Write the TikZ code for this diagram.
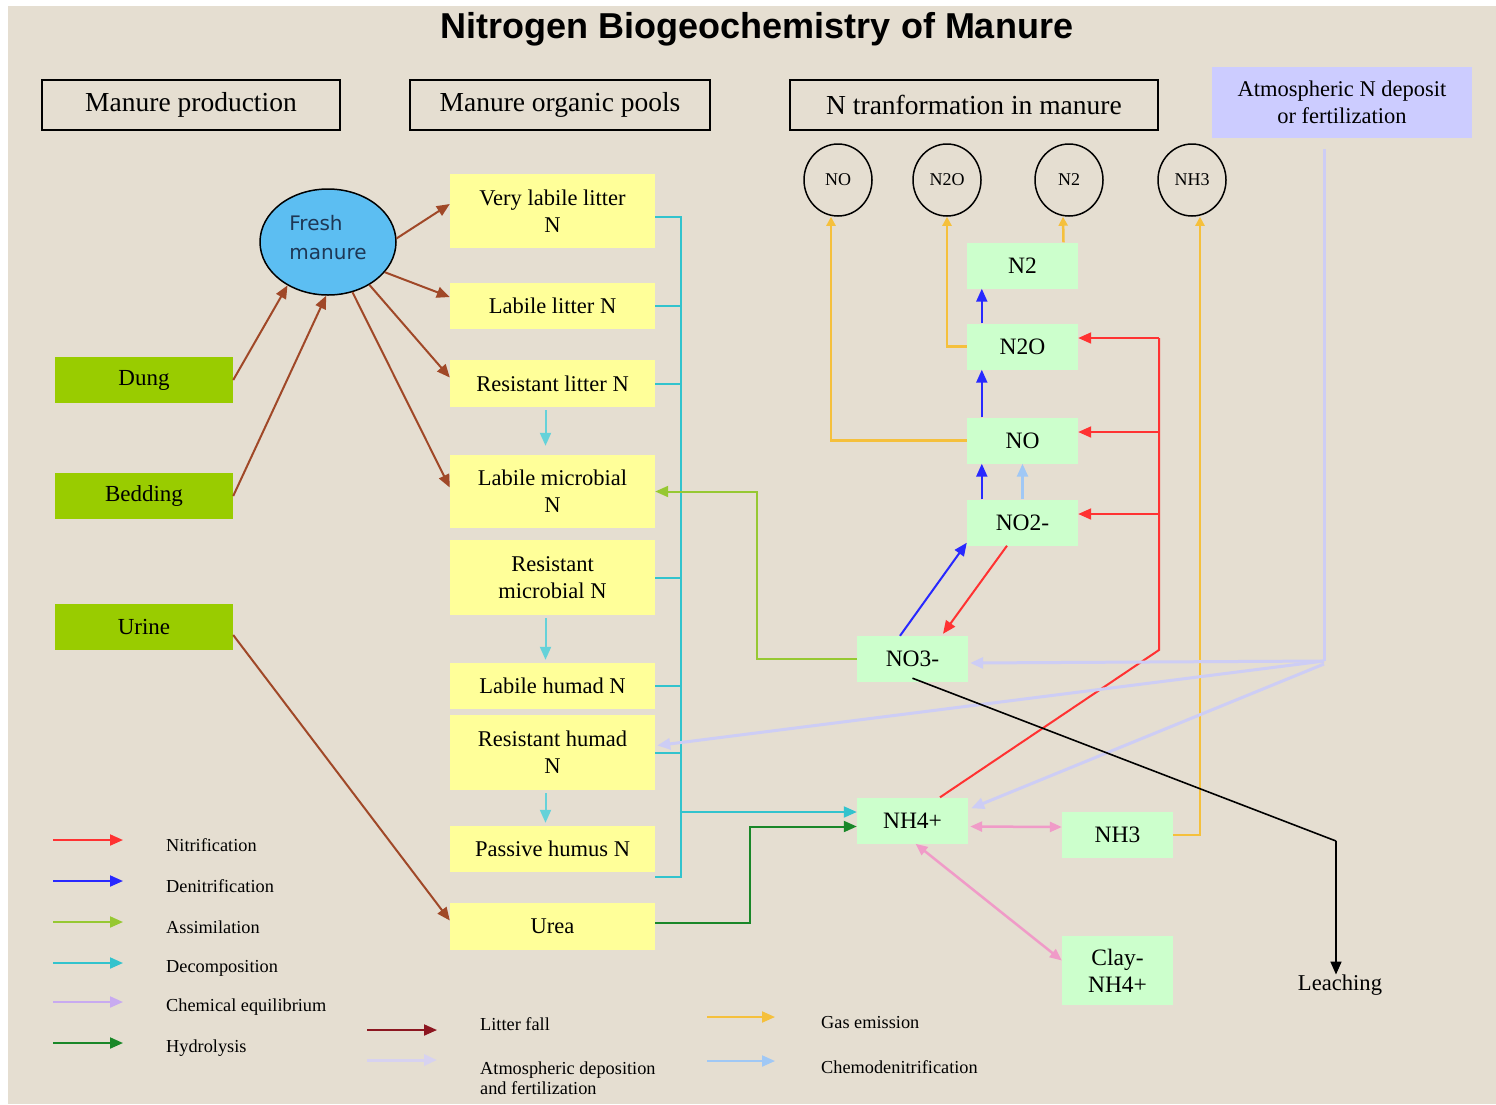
\documentclass[tikz,border=0pt]{standalone}
\usepackage{fontspec}
\setmainfont{Liberation Serif}
\newfontfamily\titlefont{Liberation Sans}
\newfontfamily\roundfont{DejaVu Sans}
\usetikzlibrary{arrows.meta,calc,shapes.geometric}

\definecolor{paper}{RGB}{229,222,209}
\definecolor{poolfill}{RGB}{255,255,153}
\definecolor{mineralfill}{RGB}{204,255,204}
\definecolor{sourcefill}{RGB}{153,204,0}
\definecolor{manurefill}{RGB}{92,190,242}
\definecolor{manuretext}{RGB}{30,55,85}
\definecolor{atmfill}{RGB}{204,204,255}
\definecolor{litterc}{RGB}{160,72,40}
\definecolor{litterlegend}{RGB}{140,22,32}
\definecolor{nitric}{RGB}{255,50,50}
\definecolor{denitc}{RGB}{40,40,255}
\definecolor{chemoc}{RGB}{160,200,245}
\definecolor{gasc}{RGB}{245,192,60}
\definecolor{assimc}{RGB}{150,200,50}
\definecolor{hydroc}{RGB}{25,135,40}
\definecolor{decompc}{RGB}{50,195,205}
\definecolor{atmc}{RGB}{205,205,245}
\definecolor{atmlegend}{RGB}{215,210,240}
\definecolor{equilc}{RGB}{240,155,200}
\definecolor{equillegend}{RGB}{200,170,240}

\tikzset{
  hdr/.style={draw=black, line width=2pt, inner sep=0pt, minimum height=50pt,
    font=\fontsize{27.5}{30}\selectfont},
  pool/.style={fill=poolfill, inner sep=0pt, minimum width=205pt, align=center,
    font=\fontsize{22.5}{27}\selectfont},
  mineral/.style={fill=mineralfill, inner sep=0pt, minimum width=111pt, minimum height=46pt,
    align=center, font=\fontsize{23.5}{26}\selectfont},
  source/.style={fill=sourcefill, inner sep=0pt, minimum width=178pt, minimum height=46pt,
    font=\fontsize{23}{25}\selectfont},
  gasball/.style={draw=black, line width=1.5pt, ellipse, inner sep=0pt,
    minimum width=68pt, minimum height=72pt, font=\fontsize{18}{20}\selectfont},
  legtext/.style={anchor=west, inner sep=0pt, align=left, font=\fontsize{18.3}{20}\selectfont},
  tip/.style={-{Triangle[length=13pt,width=11pt]}},
  smalltip/.style={-{Triangle[length=9pt,width=9pt]}},
  flow/.style={line width=2pt, tip},
  litter/.style={flow, draw=litterc},
  nitrif/.style={flow, draw=nitric},
  denit/.style={flow, draw=denitc},
  chemo/.style={flow, draw=chemoc, line width=2.5pt},
  gas/.style={line width=2.5pt, smalltip, draw=gasc},
  assim/.style={flow, draw=assimc},
  hydro/.style={flow, draw=hydroc},
  decomp/.style={line width=2pt, draw=decompc},
  atmdep/.style={flow, draw=atmc, line width=3pt},
  equil/.style={line width=2.5pt, draw=equilc, {Triangle[length=12pt,width=10pt]}-{Triangle[length=12pt,width=10pt]}},
}

\begin{document}
\begin{tikzpicture}[x=1pt,y=-1pt]
% paper background
\fill[white] (0,0) rectangle (1496,1104);
\fill[paper] (8,6) rectangle (1496,1104);
\useasboundingbox (0,0) rectangle (1496,1104);

% title and column headers
\node[font=\titlefont\bfseries\fontsize{36}{40}\selectfont] (title) at (757,29) {Nitrogen Biogeochemistry of Manure};
\node[hdr, minimum width=298pt] (h1) at (191,105) {Manure production};
\node[hdr, minimum width=300pt] (h2) at (560,105) {Manure organic pools};
\node[hdr, minimum width=368pt] (h3) at (974,105) {N tranformation in manure};
\node[fill=atmfill, inner sep=0pt, minimum width=260pt, minimum height=71pt, align=center,
      font=\fontsize{22.5}{27}\selectfont] (atm) at (1342,102.5) {Atmospheric N deposit\\or fertilization};

% gaseous sinks
\node[gasball] (noc) at (838,180) {NO};
\node[gasball] (n2oc) at (947,180) {N2O};
\node[gasball] (n2c) at (1069,180) {N2};
\node[gasball] (nh3c) at (1192,180) {NH3};

% manure sources
\node[draw=black, line width=1.5pt, fill=manurefill, ellipse, minimum width=136pt, minimum height=106pt,
      inner sep=0pt, align=left, text=manuretext, font=\roundfont\fontsize{20}{29}\selectfont] (fm) at (328,242) {};
\node[inner sep=0pt, align=left, text=manuretext, font=\roundfont\fontsize{20}{29}\selectfont] (fmtext) at (328,238) {Fresh\\manure};
\node[source] (dung) at (144,380) {Dung};
\node[source] (bedding) at (144,496) {Bedding};
\node[source] (urine) at (144,627) {Urine};

% organic pools
\node[pool, minimum height=74pt] (vll) at (552.5,211) {Very labile litter\\N};
\node[pool, minimum height=46pt] (ll) at (552.5,306) {Labile litter N};
\node[pool, minimum height=47pt] (rl) at (552.5,383.5) {Resistant litter N};
\node[pool, minimum height=73pt] (lm) at (552.5,491.5) {Labile microbial\\N};
\node[pool, minimum height=75pt] (rm) at (552.5,577.5) {Resistant\\microbial N};
\node[pool, minimum height=46pt] (lh) at (552.5,686) {Labile humad N};
\node[pool, minimum height=75pt] (rh) at (552.5,752.5) {Resistant humad\\N};
\node[pool, minimum height=46pt] (ph) at (552.5,849) {Passive humus N};
\node[pool, minimum height=47pt] (urea) at (552.5,926.5) {Urea};

% mineral nitrogen
\node[mineral] (n2) at (1022.5,265.5) {N2};
\node[mineral] (n2o) at (1022.5,346.5) {N2O};
\node[mineral] (no) at (1022.5,440.5) {NO};
\node[mineral] (no2) at (1022.5,522.5) {NO2-};
\node[mineral] (no3) at (912.5,659) {NO3-};
\node[mineral] (nh4) at (912.5,820.5) {NH4+};
\node[mineral] (nh3) at (1117.5,835) {NH3};
\node[mineral, minimum height=69pt, font=\fontsize{23.5}{27}\selectfont] (clay) at (1117.5,970.5) {Clay-\\NH4+};
\node[inner sep=0pt, font=\fontsize{22.6}{25}\selectfont] (leach) at (1340,985) {Leaching};

% litter fall
\draw[litter] (dung.east) -- (fm.227);
\draw[litter] (bedding.east) -- (fm.268);
\draw[litter] (fm.3) -- ($(vll.west)+(0,-7)$);
\draw[litter] (fm.332) -- ($(ll.west)+(0,-9)$);
\draw[litter] (fm.314) -- ($(rl.west)+(0,-6)$);
\draw[litter] (fm.296) -- ($(lm.west)+(0,-4)$);
\draw[litter] ($(urine.east)+(0,8)$) -- ($(urea.west)+(0,-6)$);

% decomposition
\coordinate (dtop) at ($(vll.east)+(26,6)$);
\coordinate (dbot) at ($(ph.east)+(26,28)$);
\draw[decomp] ($(vll.east)+(0,6)$) -- (dtop) -- (dbot) -- ($(ph.east)+(0,28)$);
\foreach \pool in {ll,rl,rm,lh,rh}
  \draw[decomp] (\pool.east) -- (\pool.east -| dtop);
\draw[decomp, tip] ($(nh4.west)+(-177,-8.5)$) -- ($(nh4.west)+(0,-8.5)$);
\draw[decomp, tip, draw=decompc!75] ($(rl.south)+(-7,3)$) -- ($(lm.north)+(-7,-9)$);
\draw[decomp, tip, draw=decompc!75] ($(rm.south)+(-7,3)$) -- ($(lh.north)+(-7,-3)$);
\draw[decomp, tip, draw=decompc!75] ($(rh.south)+(-7,3)$) -- ($(ph.north)+(-7,-3)$);

% assimilation and hydrolysis
\draw[assim] (no3.west) -- ++(-100,0) |- (lm.east);
\draw[hydro] ($(urea.east)+(0,-4)$) -- ++(95,0) |- ($(nh4.west)+(0,6)$);

% nitrification
\coordinate (rbend) at (1159,650);
\coordinate (rtop) at (1159,338);
\draw[nitric, line width=2pt] ($(nh4.north)+(27.5,0)$) -- (rbend) -- (rtop);
\draw[nitrif] (rtop) -- ($(n2o.east)+(0,-8.5)$);
\draw[nitrif] (rtop |- 0,432) -- ($(no.east)+(0,-8.5)$);
\draw[nitrif] (rtop |- 0,514) -- ($(no2.east)+(0,-8.5)$);
\draw[nitrif] ($(no2.south)+(-15.5,0)$) -- ($(no3.north)+(30.5,-2)$);

% denitrification
\draw[denit] ($(no3.north)+(-12.5,0)$) -- ($(no2.south west)+(0,-3)$);
\draw[denit] ($(no2.north west)+(15,0)$) -- ($(no.south west)+(15,0)$);
\draw[denit] ($(no.north west)+(15,0)$) -- ($(n2o.south west)+(15,0)$);
\draw[denit] ($(n2o.north west)+(15,0)$) -- ($(n2.south west)+(15,0)$);
\draw[chemo] (no2.north) -- (no.south);

% gas emission
\draw[gas] (no.west) -| ($(noc.south)+(-7,0)$);
\draw[gas] (n2o.west) -| (n2oc.south);
\draw[gas] ($(n2.north)+(41,0)$) -- ($(n2c.south)+(-6,0)$);
\draw[gas] (nh3.east) -| ($(nh3c.south)+(8,0)$);

% atmospheric deposition and fertilization
\coordinate (atmbend) at (1324,661);
\draw[atmc, line width=3pt] ($(atm.south)+(-18,11)$) -- (atmbend);
\draw[atmdep] (atmbend) -- ($(no3.east)+(2,4)$);
\draw[atmdep] (atmbend) -- ($(rh.east)+(2,-7)$);
\draw[atmdep] ($(atmbend)+(0,3)$) -- ($(nh4.north east)+(3,11)$);

% chemical equilibrium
\draw[equil] ($(nh4.east)+(2,6)$) -- ($(nh3.west)+(0,-8)$);
\draw[equil] ($(nh4.south)+(3,0)$) -- ($(clay.west)+(0,-10)$);

% leaching
\coordinate (lcorner) at (1336,841);
\draw[black, line width=1.6pt] ($(no3.south)+(0,-4)$) -- (lcorner);
\draw[black, line width=1.6pt, tip] (lcorner) -- (lcorner |- leach.north);

% legend
\foreach \y/\col/\lab in {840/nitric/Nitrification, 881/denitc/Denitrification, 922/assimc/Assimilation,
    963/decompc/Decomposition, 1002/equillegend/Chemical equilibrium, 1043/hydroc/Hydrolysis}{
  \coordinate (ls\y) at (53,\y);
  \node[legtext] (lt\y) at (166,\y+5) {\lab};
  \draw[flow, draw=\col] (ls\y) -- ++(70,0);
}
\coordinate (lfs) at (367,1030);
\node[legtext] (lft) at (480,1024) {Litter fall};
\draw[flow, draw=litterlegend] (lfs) -- ++(70,0);
\coordinate (ads) at (367,1060);
\node[legtext] (adt) at (480,1078) {Atmospheric deposition\\and fertilization};
\draw[flow, draw=atmlegend, line width=3pt] (ads) -- ++(70,0);
\coordinate (ges) at (707,1017);
\node[legtext] (get) at (821,1023) {Gas emission};
\draw[flow, draw=gasc] (ges) -- ++(68,0);
\coordinate (cds) at (707,1061);
\node[legtext] (cdt) at (821,1067) {Chemodenitrification};
\draw[flow, draw=chemoc] (cds) -- ++(68,0);
\end{tikzpicture}
\end{document}
